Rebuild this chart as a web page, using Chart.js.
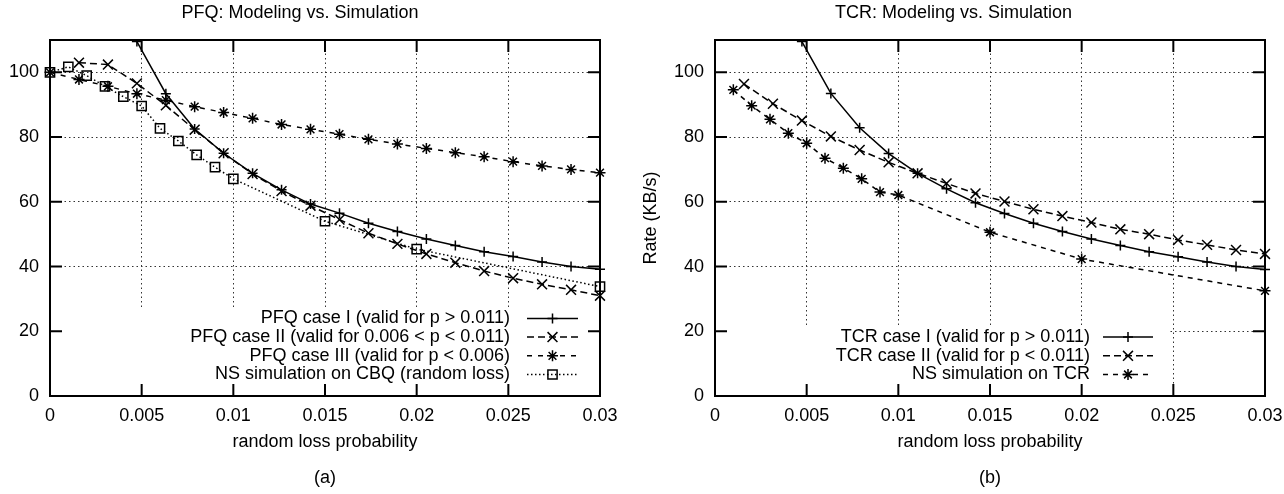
<!DOCTYPE html>
<html>
<head>
<meta charset="utf-8">
<script src="https://cdn.jsdelivr.net/npm/chart.js@4/dist/chart.umd.min.js"></script>
<style>
  html, body { margin: 0; padding: 0; background: #fff; }
  body { width: 1284px; height: 494px; position: relative; overflow: hidden; }
  canvas { position: absolute; top: 0; }
  #pfq { left: 0; }
  #tcr { left: 642px; }
</style>
</head>
<body>
<canvas id="pfq" width="642" height="494"></canvas>
<canvas id="tcr" width="642" height="494"></canvas>
<script>
// Ticks
const xTicks = [0, 0.005, 0.01, 0.015, 0.02, 0.025, 0.03];
const yTicks = [0, 20, 40, 60, 80, 100];

// Model sample points (loss probability)
const modelP = [0, 0.00158, 0.00316, 0.00474, 0.00632, 0.00789, 0.00947, 0.01105, 0.01263, 0.01421,
  0.01579, 0.01737, 0.01895, 0.02053, 0.02211, 0.02368, 0.02526, 0.02684, 0.02842, 0.03];

// (a) PFQ
const pfqCase1 = [null, null, null, 109.5, 93.4, 82.5, 75.0, 68.8, 63.7, 59.3,
  56.5, 53.4, 50.8, 48.5, 46.5, 44.6, 43.1, 41.4, 40.0, 39.2];
const pfqCase2 = [null, 103.0, 102.4, 96.6, 89.8, 82.3, 75.0, 68.6, 63.3, 58.8,
  54.5, 50.3, 47.0, 43.9, 41.2, 38.6, 36.4, 34.5, 32.8, 31.0];
const pfqCase3 = [100, 97.8, 95.7, 93.4, 91.4, 89.4, 87.6, 85.8, 83.9, 82.4,
  80.9, 79.3, 77.9, 76.5, 75.2, 73.9, 72.4, 71.1, 70.0, 69.0];
const cbqP = [0, 0.001, 0.002, 0.003, 0.004, 0.005, 0.006, 0.007, 0.008, 0.009, 0.01, 0.015, 0.02, 0.03];
const cbqSim = [100, 101.7, 99.0, 95.7, 92.5, 89.6, 82.7, 78.8, 74.5, 70.7, 67.1, 54.0, 45.4, 33.8];

// (b) TCR
const tcrCase1 = [null, null, null, 109.5, 93.5, 82.9, 74.9, 68.8, 64.0, 59.7,
  56.4, 53.4, 50.8, 48.5, 46.5, 44.6, 43.0, 41.4, 40.0, 39.1];
const tcrCase2 = [null, 96.4, 90.3, 85.1, 80.2, 76.0, 72.2, 68.8, 65.7, 62.6,
  60.1, 57.7, 55.6, 53.6, 51.5, 50.0, 48.2, 46.7, 45.1, 43.9];
const tcrSimP = [0.001, 0.002, 0.003, 0.004, 0.005, 0.006, 0.007, 0.008, 0.009, 0.01, 0.015, 0.02, 0.03];
const tcrSim = [94.6, 89.7, 85.5, 81.2, 78.1, 73.5, 70.4, 67.1, 63.0, 62.1, 50.6, 42.3, 32.5];

const FONT = '"Liberation Sans", Arial, Helvetica, sans-serif';
Chart.defaults.font.family = FONT;
Chart.defaults.font.size = 18;
Chart.defaults.color = '#000';

function series(label, xs, ys, dash, style, r) {
  return {
    label,
    data: xs.map((x, i) => ({ x, y: ys[i] })),
    borderColor: '#000',
    borderWidth: 1.5,
    borderDash: dash,
    pointStyle: style,
    pointRadius: r,
    pointBorderColor: '#000',
    pointBackgroundColor: 'rgba(0,0,0,0)',
    pointBorderWidth: 1.5,
    tension: 0,
    fill: false,
    clip: { left: 10, right: 10, top: 0, bottom: 10 }
  };
}

// gnuplot style key: blank area + right aligned text + sample
const gnuKey = {
  id: 'gnuKey',
  beforeDatasetsDraw(chart, args, o) {
    const a = chart.chartArea, ctx = chart.ctx;
    const n = chart.data.datasets.length;
    const top = a.bottom - o.lastRow - o.rowH * (n - 0.5);
    ctx.save();
    ctx.fillStyle = '#fff';
    ctx.fillRect(a.left + 1.5, top, a.right - o.blankRight - a.left - 1.5, a.bottom - 1.5 - top);
    ctx.restore();
  },
  afterDraw(chart, args, o) {
    const a = chart.chartArea, ctx = chart.ctx;
    const ds = chart.data.datasets;
    ctx.save();
    ds.forEach((d, k) => {
      const y = a.bottom - o.lastRow - (ds.length - 1 - k) * o.rowH;
      ctx.font = '18px ' + FONT;
      ctx.fillStyle = '#000';
      ctx.textAlign = 'right';
      ctx.textBaseline = 'middle';
      ctx.fillText(d.label, a.right - o.textRight, y);
      const x1 = a.right - o.sampleLeft, x2 = a.right - o.sampleRight;
      ctx.strokeStyle = '#000';
      ctx.lineWidth = d.borderWidth;
      ctx.setLineDash(d.borderDash);
      ctx.beginPath();
      ctx.moveTo(x1, y);
      ctx.lineTo(x2, y);
      ctx.stroke();
      ctx.setLineDash([]);
      ctx.lineWidth = d.pointBorderWidth;
      ctx.fillStyle = 'rgba(0,0,0,0)';
      Chart.helpers.drawPoint(ctx, { pointStyle: d.pointStyle, radius: d.pointRadius, borderWidth: d.pointBorderWidth, rotation: 0 }, (x1 + x2) / 2, y);
    });
    ctx.restore();
  }
};

// frame and inward ticks on all four sides
const gnuFrame = {
  id: 'gnuFrame',
  afterDraw(chart) {
    const a = chart.chartArea, ctx = chart.ctx;
    const xs = chart.scales.x, ys = chart.scales.y;
    const t = 12;
    ctx.save();
    ctx.strokeStyle = '#000';
    ctx.lineWidth = 2;
    ctx.setLineDash([]);
    ctx.beginPath();
    xTicks.forEach(v => {
      const px = xs.getPixelForValue(v);
      ctx.moveTo(px, a.bottom); ctx.lineTo(px, a.bottom - t);
      ctx.moveTo(px, a.top); ctx.lineTo(px, a.top + t);
    });
    yTicks.forEach(v => {
      const py = ys.getPixelForValue(v);
      ctx.moveTo(a.left, py); ctx.lineTo(a.left + t, py);
      ctx.moveTo(a.right, py); ctx.lineTo(a.right - t, py);
    });
    ctx.stroke();
    ctx.strokeRect(a.left, a.top, a.right - a.left, a.bottom - a.top);
    ctx.restore();
  }
};

Chart.register(gnuKey, gnuFrame);

function makeOptions(title, sub, yTitle, yWidth, padRight, key) {
  const grid = { drawTicks: false, color: '#333', lineWidth: 1 };
  const border = { color: '#000', width: 2, dash: [1.5, 3] };
  return {
    responsive: false,
    animation: false,
    events: [],
    layout: { padding: { left: 0, right: padRight, top: 0, bottom: 0 } },
    plugins: {
      legend: { display: false },
      tooltip: { enabled: false },
      title: { display: true, text: title, color: '#000', font: { size: 18, weight: 'normal', lineHeight: 1 }, padding: { top: 4.5, bottom: 17.5 } },
      gnuKey: key
    },
    scales: {
      x: {
        type: 'linear', min: 0, max: 0.03,
        afterBuildTicks: s => { s.ticks = xTicks.map(v => ({ value: v })); },
        afterFit: s => { s.height = 98; s.paddingLeft = 0; s.paddingRight = 0; },
        ticks: { padding: 9, maxRotation: 0, autoSkip: false, callback: v => String(v) },
        grid, border,
        title: { display: true, text: ['random loss probability', '', sub], font: { size: 18, lineHeight: 1 }, padding: { top: 0, bottom: 7 } }
      },
      y: {
        type: 'linear', min: 0, max: 110,
        afterBuildTicks: s => { s.ticks = yTicks.map(v => ({ value: v })); },
        afterFit: s => { s.width = yWidth; },
        ticks: { padding: 11 },
        grid, border,
        title: { display: !!yTitle, text: yTitle, font: { size: 18, lineHeight: 1 }, padding: 0 }
      }
    }
  };
}

new Chart(document.getElementById('pfq'), {
  type: 'line',
  data: {
    datasets: [
      series('PFQ case I (valid for p > 0.011)', modelP, pfqCase1, [], 'cross', 5),
      series('PFQ case II (valid for 0.006 < p < 0.011)', modelP, pfqCase2, [7, 4], 'crossRot', 7),
      series('PFQ case III (valid for p < 0.006)', modelP, pfqCase3, [5, 6], 'star', 5.5),
      series('NS simulation on CBQ (random loss)', cbqP, cbqSim, [1.5, 2.5], 'rect', 6.5)
    ]
  },
  options: makeOptions('PFQ: Modeling vs. Simulation', '(a)', '', 50, 42,
    { lastRow: 21.5, rowH: 18.7, textRight: 90, sampleLeft: 73, sampleRight: 22, blankRight: 0 })
});

new Chart(document.getElementById('tcr'), {
  type: 'line',
  data: {
    datasets: [
      series('TCR case I (valid for p > 0.011)', modelP, tcrCase1, [], 'cross', 5),
      series('TCR case II (valid for p < 0.011)', modelP, tcrCase2, [7, 4], 'crossRot', 7),
      series('NS simulation on TCR', tcrSimP, tcrSim, [5, 5], 'star', 5.5)
    ]
  },
  options: makeOptions('TCR: Modeling vs. Simulation', '(b)', 'Rate (KB/s)', 73, 19,
    { lastRow: 21.5, rowH: 18.7, textRight: 175, sampleLeft: 162, sampleRight: 112, blankRight: 95 })
});
</script>
</body>
</html>
